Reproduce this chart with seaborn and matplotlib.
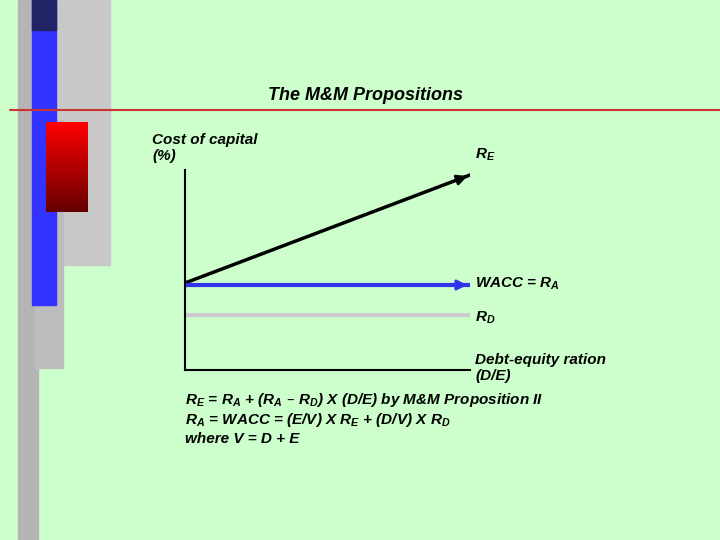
import matplotlib
matplotlib.use("Agg")
import matplotlib.pyplot as plt
import seaborn as sns
import numpy as np
from matplotlib.patches import Rectangle

sns.set_theme(style="white")
plt.rcParams['font.family'] = ['Liberation Sans', 'DejaVu Sans']
plt.rcParams['text.color'] = 'black'

# debt-equity ratio axis (0 -> 1) and cost of capital lines
de = [0, 1]
r_e = [0.435, 0.975]
wacc = [0.425, 0.425]
r_d = [0.275, 0.275]

BG = "#ccffcc"
fig = plt.figure(figsize=(7.2, 5.4), dpi=100, facecolor=BG)

# background decorations in pixel coords
bg = fig.add_axes([0, 0, 1, 1])
bg.set_xlim(0, 720)
bg.set_ylim(540, 0)
bg.axis("off")
bg.set_facecolor(BG)
bg.add_patch(Rectangle((25, 0), 85, 265, color="#c8c8c8", zorder=1))
bg.add_patch(Rectangle((18, 0), 20, 540, color="#b4b4b4", zorder=2))
bg.add_patch(Rectangle((35, 120), 28, 248, color="#bdbdbd", zorder=2))
bg.add_patch(Rectangle((32, 0), 24, 305, color="#3333ff", zorder=3))
bg.add_patch(Rectangle((32, 0), 24, 30, color="#222266", zorder=3))
grad = np.linspace(0, 1, 100).reshape(-1, 1)
bg.imshow(grad, extent=(46, 88, 212, 122), cmap=matplotlib.colors.LinearSegmentedColormap.from_list("r", ["#ff0000", "#660000"]), aspect="auto", zorder=4)
bg.plot([10, 720], [110, 110], color="#cc3333", lw=1.5, zorder=5)
bg.set_xlim(0, 720)
bg.set_ylim(540, 0)

fs = 11
kw = dict(fontsize=fs, fontweight="bold", style="italic", va="center", color="black")
bg.text(365, 95, "The M&M Propositions", ha="center", va="center", fontsize=13, fontweight="bold", style="italic", color="black")
bg.text(152, 148, "Cost of capital\n(%)", ha="left", linespacing=1.2, **kw)
bg.text(475, 155, r"R$\mathregular{_E}$", **kw)
bg.text(475, 284, r"WACC = R$\mathregular{_A}$", **kw)
bg.text(475, 318, r"R$\mathregular{_D}$", **kw)
bg.text(475, 368, "Debt-equity ration\n(D/E)", linespacing=1.2, **kw)
bg.text(185, 400, r"R$\mathregular{_E}$ = R$\mathregular{_A}$ + (R$\mathregular{_A}$ – R$\mathregular{_D}$) X (D/E) by M&M Proposition II", **kw)
bg.text(185, 420, r"R$\mathregular{_A}$ = WACC = (E/V) X R$\mathregular{_E}$ + (D/V) X R$\mathregular{_D}$", **kw)
bg.text(185, 439, "where V = D + E", **kw)

# chart axes
ax = fig.add_axes([185 / 720, (540 - 370) / 540, 285 / 720, 200 / 540])
ax.patch.set_alpha(0)
sns.lineplot(x=de, y=r_e, ax=ax, color="black", lw=2.5)
sns.lineplot(x=de, y=wacc, ax=ax, color="#3333ee", lw=3)
sns.lineplot(x=de, y=r_d, ax=ax, color="#cccccc", lw=3)
ax.annotate("", xy=(de[1], r_e[1]), xytext=(0.97, r_e[0] + 0.97 * (r_e[1] - r_e[0])),
            arrowprops=dict(arrowstyle="-|>", color="black", lw=2, mutation_scale=15))
ax.annotate("", xy=(de[1], wacc[1]), xytext=(0.97, wacc[1]),
            arrowprops=dict(arrowstyle="-|>", color="#3333ee", lw=2, mutation_scale=15))
ax.set_xlim(0, 1)
ax.set_ylim(0, 1)
ax.set_xticks([])
ax.set_yticks([])
for s in ["top", "right"]:
    ax.spines[s].set_visible(False)
for s in ["left", "bottom"]:
    ax.spines[s].set_color("black")
    ax.spines[s].set_linewidth(1.5)

fig.savefig("out.png", dpi=100, facecolor=BG)
